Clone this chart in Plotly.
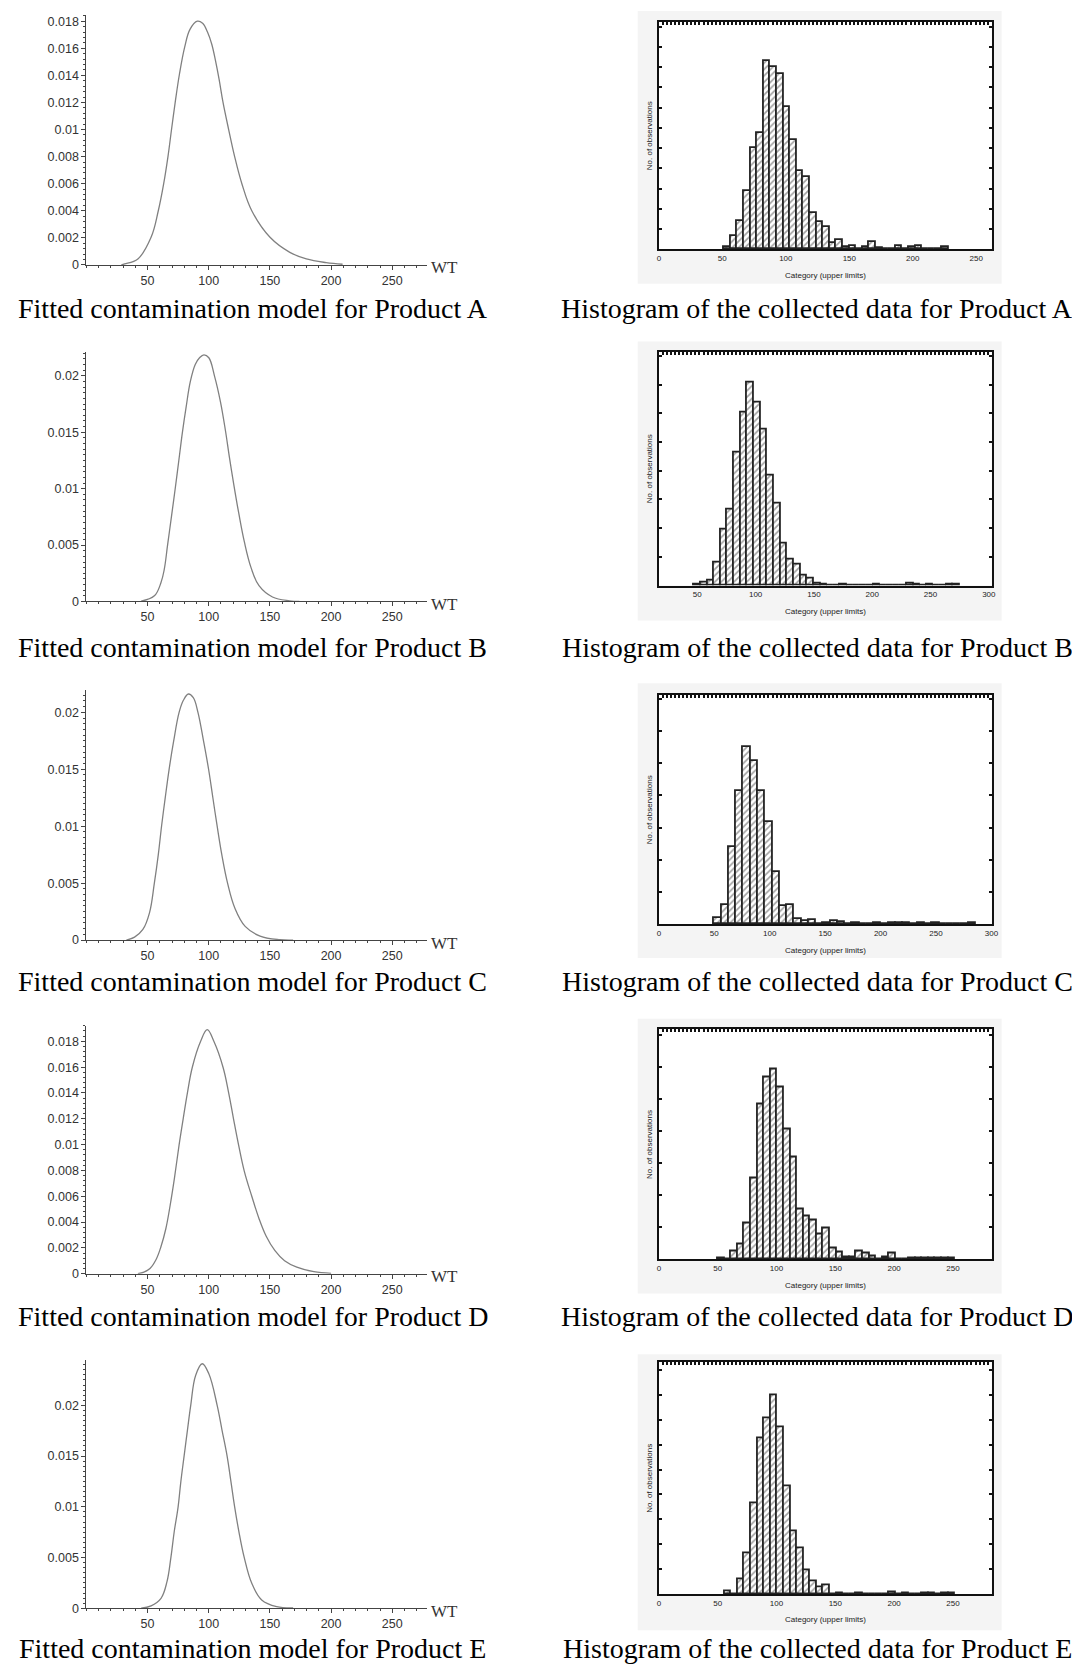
import plotly.graph_objects as go

# ---------------- DATA ----------------
products = ["A", "B", "C", "D", "E"]

# fitted density curves (WT, density)
A_wt = [28.6, 31.3, 42.1, 52.9, 58.8, 63.2, 66.7, 69.6, 72.6, 76.1, 80.4, 84.7, 90.7, 95.0, 99.0, 102.5, 105.5, 108.5, 111.7, 116.3, 121.2, 127.1, 135.2, 150.1, 166.3, 179.8, 196.0, 209.4]
A_density = [0, 0.00007, 0.00044, 0.00204, 0.0040, 0.0060, 0.0080, 0.0100, 0.0120, 0.0141, 0.0161, 0.0174, 0.0180, 0.01785, 0.0172, 0.0163, 0.0151, 0.0137, 0.0120, 0.0100, 0.0080, 0.0060, 0.0040, 0.00204, 0.00093, 0.00044, 0.00017, 0.00005]

B_wt = [44.8, 55.6, 61.0, 63.7, 66.4, 69.6, 72.6, 75.6, 78.5, 81.5, 85.0, 89.0, 92.5, 96.1, 100.1, 104.7, 109.6, 113.6, 116.9, 120.6, 124.6, 129.1, 134.6, 141.1, 152.1, 166.1, 174.1]
B_density = [0.00003, 0.0005, 0.00168, 0.00286, 0.00501, 0.00757, 0.00999, 0.01252, 0.01499, 0.0172, 0.0195, 0.0210, 0.0216, 0.02186, 0.0216, 0.0200, 0.0177, 0.0152, 0.0128, 0.0103, 0.0078, 0.0053, 0.0030, 0.0014, 0.0004, 0.00006, 0]

C_wt = [32.7, 39.4, 46.2, 51.6, 55.6, 58.8, 61.5, 64.5, 67.7, 71.3, 75.8, 79.4, 83.4, 87.4, 91.2, 95.9, 99.9, 103.4, 106.9, 110.7, 115.4, 121.4, 129.8, 142.0, 158.2, 169.0]
C_density = [0, 0.00026, 0.00093, 0.00239, 0.00502, 0.00751, 0.01004, 0.01253, 0.01504, 0.01744, 0.0200, 0.02108, 0.02161, 0.02129, 0.0200, 0.0174, 0.0150, 0.0125, 0.0100, 0.0075, 0.0050, 0.0028, 0.0012, 0.00035, 0.00003, 0]

D_wt = [42.1, 47.0, 52.0, 57.0, 61.0, 65.0, 68.5, 72.0, 75.8, 79.1, 82.6, 86.6, 93.4, 98.8, 104.2, 111.7, 116.3, 120.3, 124.4, 129.0, 135.2, 141.0, 147.0, 154.0, 162.0, 172.0, 186.0, 200.0]
D_density = [0, 0.00012, 0.0004, 0.0011, 0.0021, 0.0035, 0.0053, 0.0074, 0.00998, 0.01198, 0.01401, 0.01599, 0.0180, 0.0189, 0.0180, 0.01599, 0.01401, 0.01198, 0.00998, 0.00797, 0.0060, 0.0043, 0.0029, 0.0018, 0.0010, 0.0005, 0.00015, 0.00003]

E_wt = [44.8, 52.9, 61.0, 65.9, 69.1, 71.8, 75.0, 77.2, 79.9, 82.6, 85.3, 89.3, 94.7, 100.1, 106.9, 110.9, 115.0, 118.2, 121.2, 124.7, 129.0, 135.2, 143.3, 155.5, 169.0]
E_density = [0, 0.00023, 0.00098, 0.00262, 0.00502, 0.00754, 0.0100, 0.01246, 0.01502, 0.01754, 0.0200, 0.02295, 0.02410, 0.02311, 0.0200, 0.01754, 0.01502, 0.01246, 0.0100, 0.00754, 0.00502, 0.00246, 0.00082, 0.00016, 0.00003]

# y tick labels of the fitted-model panels
A_yticks = [0, 0.002, 0.004, 0.006, 0.008, 0.01, 0.012, 0.014, 0.016, 0.018]
A_yticktext = ["0", "0.002", "0.004", "0.006", "0.008", "0.01", "0.012", "0.014", "0.016", "0.018"]
B_yticks = [0, 0.005, 0.01, 0.015, 0.02]
B_yticktext = ["0", "0.005", "0.01", "0.015", "0.02"]
C_yticks = [0, 0.005, 0.01, 0.015, 0.02]
C_yticktext = ["0", "0.005", "0.01", "0.015", "0.02"]
D_yticks = [0, 0.002, 0.004, 0.006, 0.008, 0.01, 0.012, 0.014, 0.016, 0.018]
D_yticktext = ["0", "0.002", "0.004", "0.006", "0.008", "0.01", "0.012", "0.014", "0.016", "0.018"]
E_yticks = [0, 0.005, 0.01, 0.015, 0.02]
E_yticktext = ["0", "0.005", "0.01", "0.015", "0.02"]
wt_xticks = [50, 100, 150, 200, 250]

# histograms: category lower edges, observation counts (relative), bin widths
A_bin_left = [51.3, 56.5, 61.7, 66.9, 72.1, 77.3, 82.5, 87.7, 92.9, 98.1, 103.3, 108.5, 113.7, 118.9, 124.1, 129.3, 134.5, 139.7, 144.9, 150.1, 155.3, 160.5, 165.7, 170.9, 176.1, 181.3, 186.5, 191.7, 196.9, 202.1, 207.3, 212.5, 217.7, 222.9]
A_count = [7, 41, 84, 176, 304, 351, 566, 550, 528, 428, 328, 237, 219, 110, 82, 66, 20, 29, 7, 9, 0, 7, 21, 5, 2, 0, 11, 0, 7, 9, 0, 2, 0, 6]
A_bin_width = 5.2

B_bin_left = [47.2, 52.9, 58.6, 64.3, 70.0, 75.7, 81.4, 87.1, 92.8, 98.5, 104.2, 109.9, 115.6, 121.3, 127.0, 132.7, 138.4, 144.1, 149.8, 155.5, 161.2, 166.9, 172.6, 178.3, 184.0, 189.7, 195.4, 201.1, 206.8, 212.5, 218.2, 223.9, 229.6, 235.3, 241.0, 246.7, 252.4, 258.1, 263.8, 269.5]
B_count = [3, 8, 15, 68, 170, 230, 402, 522, 612, 550, 470, 330, 247, 128, 78, 62, 30, 20, 7, 4, 0, 0, 2, 0, 0, 0, 0, 2, 0, 0, 0, 0, 5, 4, 0, 3, 0, 0, 2, 2]
B_bin_width = 5.7

C_bin_left = [50.0, 56.55, 63.1, 69.65, 76.2, 82.75, 89.3, 95.85, 102.4, 108.95, 115.5, 122.05, 128.6, 135.15, 141.7, 148.25, 154.8, 161.35, 167.9, 174.45, 181.0, 187.55, 194.1, 200.65, 207.2, 213.75, 220.3, 226.85, 233.4, 239.95, 246.5, 253.05, 259.6, 266.15, 272.7, 279.25]
C_count = [17, 58, 232, 400, 533, 492, 400, 308, 158, 55, 57, 14, 10, 12, 0, 4, 8, 6, 0, 4, 0, 0, 3, 0, 2, 2, 2, 0, 2, 0, 2, 0, 0, 0, 0, 2]
C_bin_width = 6.55

D_bin_left = [50.2, 55.8, 61.4, 67.0, 72.6, 78.2, 83.8, 89.4, 95.0, 100.6, 106.2, 111.8, 117.4, 123.0, 128.6, 134.2, 139.8, 145.4, 151.0, 156.6, 162.2, 167.8, 173.4, 179.0, 184.6, 190.2, 195.8, 201.4, 207.0, 212.6, 218.2, 223.8, 229.4, 235.0, 240.6, 246.2]
D_count = [2, 0, 25, 45, 110, 245, 468, 548, 573, 518, 393, 308, 150, 130, 118, 75, 92, 33, 20, 7, 5, 23, 17, 9, 0, 5, 19, 0, 0, 2, 2, 2, 2, 2, 2, 2]
D_bin_width = 5.6

E_bin_left = [55.8, 61.4, 67.0, 72.6, 78.2, 83.8, 89.4, 95.0, 100.6, 106.2, 111.8, 117.4, 123.0, 128.6, 134.2, 139.8, 145.4, 151.0, 156.6, 162.2, 167.8, 173.4, 179.0, 184.6, 190.2, 195.8, 201.4, 207.0, 212.6, 218.2, 223.8, 229.4, 235.0, 240.6, 246.2]
E_count = [8, 0, 43, 123, 273, 468, 528, 598, 503, 323, 188, 138, 71, 38, 21, 25, 0, 3, 0, 0, 2, 0, 0, 0, 0, 5, 0, 3, 0, 0, 3, 3, 0, 2, 2]
E_bin_width = 5.6

A_hist_xticks = [0, 50, 100, 150, 200, 250]
B_hist_xticks = [50, 100, 150, 200, 250, 300]
C_hist_xticks = [0, 50, 100, 150, 200, 250, 300]
D_hist_xticks = [0, 50, 100, 150, 200, 250]
E_hist_xticks = [0, 50, 100, 150, 200, 250]

left_caption = "Fitted contamination model for Product {}"
right_caption = "Histogram of the collected data for Product {}"

curves = {"A": (A_wt, A_density), "B": (B_wt, B_density), "C": (C_wt, C_density),
          "D": (D_wt, D_density), "E": (E_wt, E_density)}
yticks = {"A": (A_yticks, A_yticktext), "B": (B_yticks, B_yticktext), "C": (C_yticks, C_yticktext),
          "D": (D_yticks, D_yticktext), "E": (E_yticks, E_yticktext)}
hists = {"A": (A_bin_left, A_count, A_bin_width, A_hist_xticks),
         "B": (B_bin_left, B_count, B_bin_width, B_hist_xticks),
         "C": (C_bin_left, C_count, C_bin_width, C_hist_xticks),
         "D": (D_bin_left, D_count, D_bin_width, D_hist_xticks),
         "E": (E_bin_left, E_count, E_bin_width, E_hist_xticks)}

# ---------------- LAYOUT (pixel geometry) ----------------
W, H = 1080, 1667
def fx(p):
    return p / W
def fy(p):
    return 1 - p / H

# left panels: (top px, bottom px, y range max, minor dtick)
left_geom = {"A": (7, 258, 0.01846, 0.0004), "B": (345, 596, 0.02215, 0.0005),
             "C": (685, 936, 0.02195, 0.0005), "D": (1022, 1271, 0.01921, 0.0004),
             "E": (1358, 1607, 0.02444, 0.0005)}
LX0, LX1, LXR = 77, 420, 278
# right panels: (top px, bottom px, x range, y range max, y dtick, grey top, grey bottom)
right_geom = {"A": (14, 242.3, (0, 262.2), 685, 61, 3, 277),
              "B": (345, 580, (17, 302.5), 705, 86.5, 335, 615),
              "C": (690, 920, (0, 300.3), 690, 97, 678, 954),
              "D": (1025.7, 1256.7, (0, 283), 693, 96.5, 1015, 1291),
              "E": (1360, 1592.7, (0, 283), 698, 75, 1352, 1629)}
RX0, RX1 = 654.3, 990
caption_y = {"A": 302, "B": 642, "C": 978, "D": 1314, "E": 1647}

fig = go.Figure()
layout = dict(width=W, height=H, margin=dict(l=0, r=0, t=0, b=0),
              paper_bgcolor="white", plot_bgcolor="white", showlegend=False,
              bargap=0, shapes=[], annotations=[])

tick_font = dict(family="Liberation Sans, Arial, sans-serif", size=12.5, color="#333")
small_font = dict(family="Liberation Sans, Arial, sans-serif", size=8, color="#222")
cap_font = dict(family="Liberation Serif, Times New Roman, serif", size=28, color="black")

for i, p in enumerate(products):
    # ----- left: fitted model -----
    n = i + 1
    top, bot, ymax, ymin_dt = left_geom[p]
    wx, dens = curves[p]
    fig.add_trace(go.Scatter(x=wx, y=dens, mode="lines",
                             line=dict(color="#808080", width=1.3, shape="spline", smoothing=1.1),
                             xaxis=f"x{n}", yaxis=f"y{n}", hoverinfo="skip"))
    tv, tt = yticks[p]
    layout[f"xaxis{n}"] = dict(domain=[fx(LX0), fx(LX1)], anchor=f"y{n}", range=[0, LXR],
                               showline=True, linecolor="#444", linewidth=1, showgrid=False, zeroline=False,
                               tickmode="array", tickvals=wt_xticks, ticks="outside", ticklen=4,
                               tickcolor="#444", tickfont=tick_font,
                               minor=dict(ticks="outside", ticklen=2, dtick=10, tick0=0, tickcolor="#444"))
    layout[f"yaxis{n}"] = dict(domain=[fy(bot), fy(top)], anchor=f"x{n}", range=[0, ymax],
                               showline=True, linecolor="#444", linewidth=1, showgrid=False, zeroline=False,
                               tickmode="array", tickvals=tv, ticktext=tt, ticks="outside", ticklen=4,
                               tickcolor="#444", tickfont=tick_font,
                               minor=dict(ticks="outside", ticklen=2, dtick=ymin_dt, tick0=0, tickcolor="#444"))
    layout["annotations"].append(dict(text="WT", x=fx(438), y=fy(bot + 3), xref="paper", yref="paper",
                                      showarrow=False, xanchor="center", yanchor="middle",
                                      font=dict(family="Liberation Serif, serif", size=17, color="#333")))
    layout["annotations"].append(dict(text=left_caption.format(p), x=fx(245), y=fy(caption_y[p]),
                                      xref="paper", yref="paper", showarrow=False,
                                      xanchor="center", yanchor="middle", font=cap_font))

    # ----- right: histogram -----
    m = i + 6
    mt = i + 11
    rtop, rbot, xr, yr, ydt, gtop, gbot = right_geom[p]
    lefts, counts, bw, xt = hists[p]
    layout["shapes"].append(dict(type="rect", xref="paper", yref="paper", x0=fx(633), x1=fx(1000),
                                 y0=fy(gbot), y1=fy(gtop), fillcolor="#f4f4f4", line=dict(width=0),
                                 layer="below"))
    layout["shapes"].append(dict(type="rect", xref="paper", yref="paper", x0=fx(RX0), x1=fx(RX1),
                                 y0=fy(rbot), y1=fy(rtop), fillcolor="white", line=dict(width=0),
                                 layer="below"))
    fig.add_trace(go.Bar(x=lefts, y=counts, width=bw, offset=0,
                         marker=dict(color="white", line=dict(color="#222", width=1.8),
                                     pattern=dict(shape="/", fgcolor="#444", bgcolor="white",
                                                  size=4.5, solidity=0.38)),
                         xaxis=f"x{m}", yaxis=f"y{m}", hoverinfo="skip"))
    fig.add_trace(go.Scatter(x=[], y=[], xaxis=f"x{mt}", yaxis=f"y{m}", hoverinfo="skip"))
    layout[f"xaxis{m}"] = dict(domain=[fx(RX0), fx(RX1)], anchor=f"y{m}", range=list(xr),
                               showline=True, mirror=True, linecolor="#111", linewidth=2.4,
                               showgrid=False, zeroline=False, tickmode="array", tickvals=xt,
                               ticks="", tickfont=small_font)
    layout[f"xaxis{mt}"] = dict(domain=[fx(RX0), fx(RX1)], anchor=f"y{m}", overlaying=f"x{m}",
                                side="top", range=list(xr), showline=False, showgrid=False,
                                zeroline=False, showticklabels=False, ticks="inside", ticklen=3,
                                tickwidth=1.5, tickcolor="#111", tickmode="linear", tick0=xr[0],
                                dtick=(xr[1] - xr[0]) / 82)
    layout[f"yaxis{m}"] = dict(domain=[fy(rbot), fy(rtop)], anchor=f"x{m}", range=[0, yr],
                               showline=True, mirror="ticks", linecolor="#111", linewidth=2.4,
                               showgrid=False, zeroline=False, showticklabels=False,
                               ticks="inside", ticklen=3, tickwidth=1.5, tickcolor="#111",
                               tickmode="linear", tick0=0, dtick=ydt)
    layout["annotations"].append(dict(text="Category (upper limits)", x=fx((RX0 + RX1) / 2), y=fy(rbot + 26),
                                      xref="paper", yref="paper", showarrow=False,
                                      xanchor="center", yanchor="middle", font=small_font))
    layout["annotations"].append(dict(text="No. of observations", x=fx(645), y=fy((rtop + rbot) / 2),
                                      xref="paper", yref="paper", showarrow=False, textangle=-90,
                                      xanchor="center", yanchor="middle", font=small_font))
    layout["annotations"].append(dict(text=right_caption.format(p), x=fx(814), y=fy(caption_y[p]),
                                      xref="paper", yref="paper", showarrow=False,
                                      xanchor="center", yanchor="middle", font=cap_font))

fig.update_layout(**layout)
fig.write_html("out.html")
